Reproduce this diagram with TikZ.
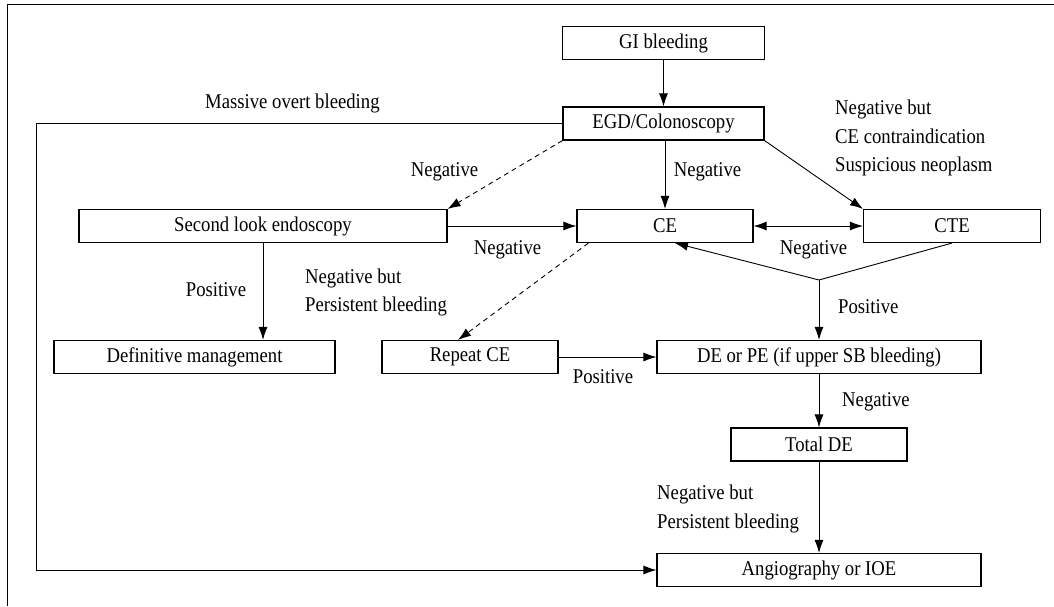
\documentclass[tikz,border=0pt]{standalone}
\usepackage{fontspec}
\setmainfont{Liberation Serif}[FakeStretch=0.89]
\usetikzlibrary{arrows.meta,calc}
\begin{document}
\begin{tikzpicture}[x=1pt,y=-1pt,
  every node/.style={font=\fontsize{21}{28.5}\selectfont},
  box/.style={draw,line width=1.1pt,minimum height=33pt,inner sep=0pt},
  lab/.style={inner sep=0pt},
  conn/.style={line width=0.9pt},
  arr/.style={conn,-{Latex[length=13pt,width=9pt]}},
  darr/.style={arr,dash pattern=on 5pt off 4pt},
  dbl/.style={conn,{Latex[length=13pt,width=9pt]}-{Latex[length=13pt,width=9pt]}}]
\useasboundingbox (0,0) rectangle (1054,606);
% frame
\draw[line width=1pt] (7,606) -- (7,4) -- (1054,4);
% boxes
\node[box,minimum width=202pt] (gi) at (663.5,43) {GI bleeding};
\node[box,minimum width=201pt] (egd) at (663.5,123.5) {EGD/Colonoscopy};
\node[box,minimum width=368pt] (sle) at (263,226) {Second look endoscopy};
\node[box,minimum width=176pt] (ce) at (665,226) {CE};
\node[box,minimum width=177pt] (cte) at (952,226) {CTE};
\node[box,minimum width=281pt] (dm) at (194.5,357) {Definitive management};
\node[box,minimum width=176pt] (rce) at (470,357) {Repeat CE};
\node[box,minimum width=324pt] (de) at (819,357) {DE or PE (if upper SB bleeding)};
\node[box,minimum width=176pt] (tde) at (819,444.5) {Total DE};
\node[box,minimum width=324pt] (ang) at (819,570) {Angiography or IOE};
% coordinates
\coordinate (mL1) at (36,123.5);
\coordinate (mL2) at (36,570);
\coordinate (apex) at (819,280);
\coordinate (ceB) at ($(ce.south)+(10,0)$);
\coordinate (ceBL) at ($(ce.south west)+(12,0)$);
\coordinate (rceT) at ($(rce.north)+(-12,0)$);
% connectors
\draw[arr] (gi) -- (egd);
\draw[arr] (egd.west) -- (mL1) -- (mL2) -- (ang.west);
\draw[darr] (egd.south west) -- (sle.north east);
\draw[arr] (egd.south -| ce.north) -- (ce.north);
\draw[arr] (egd.south east) -- (cte.north west);
\draw[arr] (sle.east) -- (ce.west);
\draw[dbl] (ce.east) -- (cte.west);
\draw[conn] (cte.south) -- (apex);
\draw[arr] (apex) -- (ceB);
\draw[arr] (apex) -- (apex |- de.north);
\draw[arr] (sle.south) -- (sle.south |- dm.north);
\draw[darr] (ceBL) -- (rceT);
\draw[arr] (rce.east) -- (de.west);
\draw[arr] (de.south -| tde.north) -- (tde.north);
\draw[arr] (tde.south) -- (tde.south |- ang.north);
% labels
\node[lab,anchor=west] (l1) at (205,103) {Massive overt bleeding};
\node[lab] (l2) at (444.5,172) {Negative};
\node[lab] (l3) at (707.5,172) {Negative};
\node[lab,anchor=west,align=left] (l4) at (835,138) {Negative but\\CE contraindication\\Suspicious neoplasm};
\node[lab] (l5) at (507.5,250) {Negative};
\node[lab] (l6) at (813.5,250) {Negative};
\node[lab] (l7) at (216,290) {Positive};
\node[lab,anchor=west,align=left] (l8) at (305,292.5) {Negative but\\Persistent bleeding};
\node[lab,anchor=west] (l9) at (838,307) {Positive};
\node[lab] (l10) at (603,377) {Positive};
\node[lab,anchor=west] (l11) at (842,402) {Negative};
\node[lab,anchor=west,align=left] (l12) at (657,509) {Negative but\\Persistent bleeding};
\end{tikzpicture}
\end{document}
